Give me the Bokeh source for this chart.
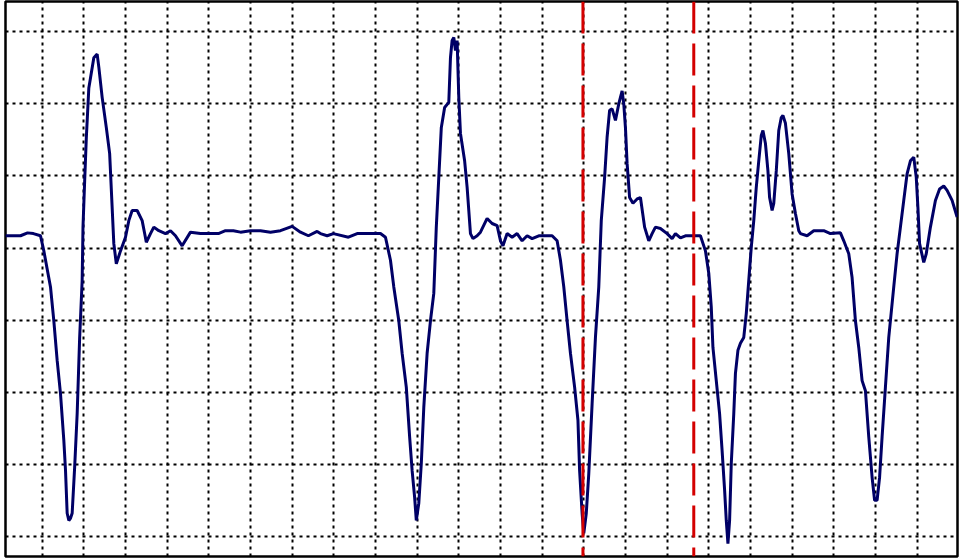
from bokeh.plotting import figure
from bokeh.models import Span, FixedTicker, Range1d
from bokeh.embed import file_html
from bokeh.resources import INLINE

# time in grid divisions, amplitude in grid divisions
t = [0.12, 0.48, 0.65, 0.79, 0.96, 1.04, 1.12, 1.20, 1.28, 1.36, 1.44, 1.52, 1.56, 1.60, 1.64, 1.68,
     1.72, 1.78, 1.84, 1.90, 1.96, 1.98, 2.02, 2.06, 2.12, 2.16, 2.24, 2.32, 2.36, 2.44, 2.54, 2.62,
     2.68, 2.72, 2.78, 2.88, 3.00, 3.08, 3.16, 3.28, 3.40, 3.46, 3.50, 3.60, 3.68, 3.80,
     3.96, 4.08, 4.20, 4.36, 4.56, 4.80, 5.04, 5.23, 5.40, 5.59, 5.76, 6.00, 6.24, 6.48, 6.72, 7.00,
     7.20, 7.39, 7.60,
     7.68, 7.84, 7.99, 8.35, 8.56, 8.88, 9.12, 9.24, 9.36, 9.44, 9.56, 9.64, 9.74, 9.82, 9.88, 9.94,
     9.98, 10.04, 10.10, 10.16, 10.24, 10.32, 10.40, 10.46, 10.52, 10.58, 10.66, 10.76, 10.80, 10.84,
     10.88, 10.92, 10.96, 11.00, 11.04, 11.14, 11.20, 11.28, 11.34, 11.44, 11.52,
     11.68, 11.80, 11.92, 12.00, 12.06, 12.16, 12.28, 12.40, 12.52, 12.64, 12.76, 12.92, 13.24, 13.36,
     13.44, 13.52, 13.60, 13.68, 13.78, 13.86, 13.90, 13.96, 14.00, 14.06, 14.12, 14.20, 14.28, 14.36,
     14.42, 14.50, 14.56, 14.62, 14.68, 14.76, 14.84, 14.92, 14.96, 15.00, 15.04, 15.10, 15.18, 15.28,
     15.36,
     15.46, 15.56, 15.64, 15.72, 15.84, 16.00, 16.12, 16.20, 16.32, 16.44, 16.80, 16.92, 17.00, 17.06,
     17.10, 17.18, 17.26, 17.32, 17.38, 17.42, 17.46, 17.50, 17.54, 17.60, 17.64, 17.70, 17.76, 17.84,
     17.90, 17.96, 18.02, 18.08, 18.14, 18.20, 18.26, 18.30, 18.36, 18.42, 18.46, 18.52, 18.56, 18.62,
     18.68, 18.74, 18.78, 18.84, 18.92, 19.00, 19.08, 19.16,
     19.20, 19.36, 19.52, 19.76, 19.92, 20.16, 20.24, 20.36, 20.44, 20.52, 20.60, 20.68, 20.76, 20.84,
     20.92, 20.98, 21.04, 21.10, 21.16, 21.24, 21.32, 21.44, 21.52, 21.60, 21.68, 21.76, 21.84, 21.92,
     21.98, 22.02, 22.06, 22.16, 22.22, 22.32, 22.44, 22.54, 22.64, 22.72, 22.84, 22.96]

amp = [4.17, 4.17, 4.21, 4.20, 4.17, 3.96, 3.71, 3.46, 2.99, 2.44, 1.98, 1.33, 0.92, 0.32, 0.22, 0.25,
       0.32, 0.96, 1.70, 2.76, 3.55, 4.29, 4.93, 5.53, 6.22, 6.36, 6.64, 6.69, 6.51, 6.09, 5.67, 5.31,
       4.56, 4.06, 3.78, 3.96, 4.15, 4.38, 4.52, 4.52, 4.38, 4.20, 4.08, 4.20, 4.29, 4.24,
       4.20, 4.24, 4.17, 4.03, 4.22, 4.20, 4.20, 4.20, 4.24, 4.24, 4.22, 4.24, 4.24, 4.22, 4.24, 4.30,
       4.22, 4.17, 4.23,
       4.20, 4.17, 4.20, 4.15, 4.20, 4.20, 4.20, 4.15, 3.83, 3.46, 2.99, 2.54, 2.07, 1.38, 0.91, 0.54,
       0.22, 0.46, 1.01, 1.79, 2.54, 2.99, 3.37, 4.29, 4.98, 5.67, 5.95, 6.02, 6.64, 6.88,
       6.92, 6.74, 6.88, 6.09, 5.59, 5.21, 4.84, 4.20, 4.13, 4.17, 4.22,
       4.41, 4.34, 4.31, 4.10, 4.03, 4.20, 4.15, 4.20, 4.10, 4.17, 4.13, 4.17, 4.17, 4.10,
       3.83, 3.46, 2.99, 2.54, 2.07, 1.61, 0.91, 0.32, 0.04, 0.32, 0.87, 1.84, 2.76, 3.46,
       4.38, 4.98, 5.54, 5.91, 5.93, 5.77, 6.00, 6.18, 6.00, 5.67, 5.17, 4.70, 4.62, 4.68,
       4.70,
       4.29, 4.10, 4.20, 4.29, 4.27, 4.20, 4.13, 4.20, 4.14, 4.17, 4.17, 3.96, 3.65, 3.18,
       2.62, 2.16, 1.70, 1.19, 0.64, 0.22, -0.10, 0.22, 1.01, 1.70, 2.26, 2.58, 2.68, 2.76,
       3.09, 3.55, 4.01, 4.38, 4.84, 5.21, 5.56, 5.63, 5.45, 5.07, 4.70, 4.52, 4.62, 5.07,
       5.63, 5.81, 5.84, 5.73, 5.31, 4.75, 4.48, 4.24,
       4.20, 4.17, 4.24, 4.24, 4.20, 4.21, 4.10, 3.92, 3.59, 2.99, 2.62, 2.16, 2.02, 1.38,
       0.82, 0.50, 0.50, 0.82, 1.38, 2.07, 2.76, 3.46, 3.92, 4.29, 4.66, 5.03, 5.21, 5.26,
       4.98, 4.56, 4.06, 3.80, 3.92, 4.29, 4.66, 4.82, 4.86, 4.80, 4.66, 4.43]

cursors = [13.98, 16.64]
x_grid = list(range(1, 23))
y_grid = list(range(0, 8))

p = figure(width=959, height=559, output_backend="svg", toolbar_location=None,
           x_range=Range1d(0.12, 22.97), y_range=Range1d(-0.28, 7.42),
           x_axis_location=None, y_axis_location=None,
           min_border_left=5, min_border_right=2, min_border_top=1, min_border_bottom=3)
p.background_fill_color = "white"
p.border_fill_color = "white"
p.outline_line_color = "black"
p.outline_line_width = 2.5
p.outline_line_alpha = 1.0

p.xgrid.ticker = FixedTicker(ticks=x_grid)
p.ygrid.ticker = FixedTicker(ticks=y_grid)
for g in (p.xgrid, p.ygrid):
    g.grid_line_color = "black"
    g.grid_line_alpha = 1.0
    g.grid_line_width = 2
    g.grid_line_dash = "3 4"

p.line(t, amp, line_color="#000066", line_width=3)

for c in cursors:
    p.add_layout(Span(location=c, dimension="height", line_color="#d40000",
                      line_width=3, line_dash="32 10"))

open("out.html", "w").write(file_html(p, INLINE))
